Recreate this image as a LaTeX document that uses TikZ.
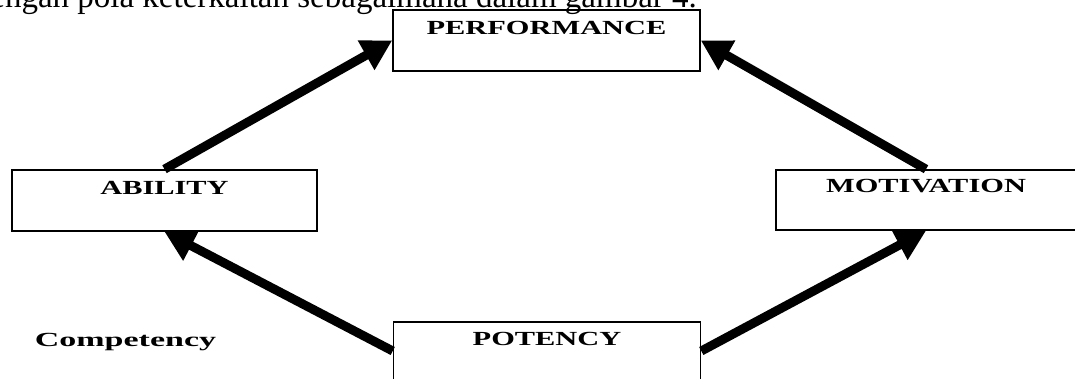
\documentclass[tikz,border=0pt]{standalone}
\usepackage{fontspec}
\setmainfont{Liberation Serif}
\newfontfamily\widebold[FakeStretch=1.52]{Liberation Serif Bold}
\newfontfamily\widerbold[FakeStretch=1.7]{Liberation Serif Bold}
\usetikzlibrary{arrows.meta,calc}
\tikzset{
  box/.style={draw, line width=1.6pt, inner sep=0pt, minimum width=307pt},
  lbl/.style={inner sep=0pt, anchor=base, font=\widebold\fontsize{20}{20}\selectfont},
  flow/.style={line width=9pt, -{Triangle[length=30pt,width=32pt]}},
}
\begin{document}
\begin{tikzpicture}[x=1pt,y=-1pt]
  \useasboundingbox (0,0) rectangle (1075,379);
  \clip (0,0) rectangle (1075,379);
  % running text of the page above the figure
  \node[inner sep=0pt, anchor=base east, font=\fontsize{33}{33}\selectfont] (txt)
    at (697,8) {dengan pola keterkaitan sebagaimana dalam gambar 4.};
  % boxes
  \node[box, minimum height=61pt] (perf) at (546.5,40.5) {};
  \node[box, minimum height=61pt, minimum width=305pt] (abil) at (164.5,200.5) {};
  \node[box, minimum height=60pt, minimum width=300pt] (moti) at (926,200) {};
  \node[box, minimum height=58pt] (pote) at (547,351) {};
  % box captions
  \node[lbl] (perf-t) at ($(perf.north)+(0,25)$) {PERFORMANCE};
  \node[lbl] (abil-t) at ($(abil.north)+(0,25)$) {ABILITY};
  \node[lbl] (moti-t) at ($(moti.north)+(0,23.5)$) {MOTIVATION};
  \node[lbl] (pote-t) at ($(pote.north)+(0,24)$) {POTENCY};
  \node[lbl, font=\widerbold\fontsize{20}{20}\selectfont] (comp) at (125.5,346) {Competency};
  % arrows
  \draw[flow] (abil.north) -- (perf.west);
  \draw[flow] (moti.north) -- (perf.east);
  \draw[flow] (pote.west) -- (abil.south);
  \draw[flow] (pote.east) -- (moti.south);
\end{tikzpicture}
\end{document}
